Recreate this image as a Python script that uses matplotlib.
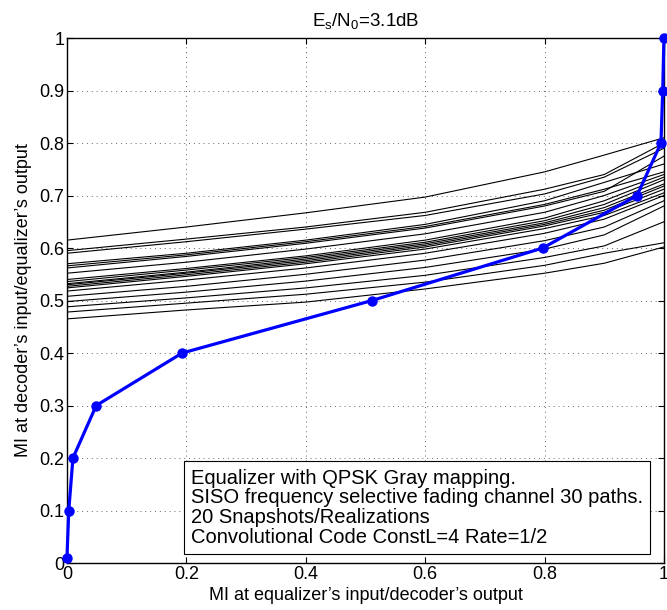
import matplotlib
matplotlib.use("Agg")
import matplotlib.pyplot as plt

plt.rcParams['font.family'] = ['Liberation Sans', 'DejaVu Sans']
plt.rcParams['mathtext.fontset'] = 'custom'
plt.rcParams['mathtext.rm'] = 'Liberation Sans'
plt.rcParams['mathtext.it'] = 'Liberation Sans:italic'

# EXIT curves of the equalizer (one per snapshot/realization)
eq_x = [0.0, 0.2, 0.4, 0.6, 0.8, 0.9, 1.0]
eq_curves = [
    [0.615, 0.640, 0.667, 0.697, 0.745, 0.777, 0.810],
    [0.595, 0.617, 0.640, 0.668, 0.712, 0.740, 0.800],
    [0.590, 0.612, 0.636, 0.662, 0.703, 0.735, 0.790],
    [0.570, 0.590, 0.615, 0.645, 0.690, 0.725, 0.760],
    [0.566, 0.587, 0.612, 0.641, 0.683, 0.712, 0.745],
    [0.562, 0.584, 0.609, 0.638, 0.680, 0.708, 0.775],
    [0.552, 0.573, 0.598, 0.627, 0.668, 0.700, 0.740],
    [0.540, 0.561, 0.585, 0.615, 0.657, 0.690, 0.735],
    [0.536, 0.558, 0.582, 0.611, 0.652, 0.683, 0.730],
    [0.532, 0.554, 0.579, 0.608, 0.648, 0.677, 0.722],
    [0.530, 0.552, 0.576, 0.605, 0.645, 0.672, 0.718],
    [0.527, 0.549, 0.573, 0.602, 0.642, 0.668, 0.712],
    [0.524, 0.546, 0.570, 0.598, 0.637, 0.662, 0.705],
    [0.518, 0.539, 0.562, 0.590, 0.628, 0.655, 0.700],
    [0.508, 0.527, 0.550, 0.577, 0.614, 0.640, 0.690],
    [0.498, 0.516, 0.537, 0.563, 0.598, 0.625, 0.680],
    [0.488, 0.505, 0.524, 0.548, 0.582, 0.604, 0.650],
    [0.478, 0.495, 0.512, 0.535, 0.567, 0.590, 0.610],
    [0.465, 0.482, 0.497, 0.522, 0.552, 0.571, 0.602],
]

# Decoder EXIT curve (inverted axes)
dec_x = [0.0, 0.003, 0.01, 0.049, 0.193, 0.511, 0.797, 0.955, 0.995, 0.998, 1.0]
dec_y = [0.01, 0.1, 0.2, 0.3, 0.4, 0.5, 0.6, 0.7, 0.8, 0.9, 1.0]

x_ticks = [0, 0.2, 0.4, 0.6, 0.8, 1.0]
x_tick_labels = ['0', '0.2', '0.4', '0.6', '0.8', '1']
y_ticks = [0, 0.1, 0.2, 0.3, 0.4, 0.5, 0.6, 0.7, 0.8, 0.9, 1.0]
y_tick_labels = ['0', '0.1', '0.2', '0.3', '0.4', '0.5', '0.6', '0.7', '0.8', '0.9', '1']

fig = plt.figure(figsize=(6.67, 6.10), dpi=100)
ax = fig.add_axes([0.1004, 0.077, 0.895, 0.8607])

for c in eq_curves:
    ax.plot(eq_x, c, color='black', linewidth=0.8)
ax.plot(dec_x, dec_y, color='#0000ff', linewidth=2.3, marker='o',
        markersize=6.5, clip_on=False, zorder=5)

ax.set_xlim(0, 1)
ax.set_ylim(0, 1)
ax.set_xticks(x_ticks)
ax.set_xticklabels(x_tick_labels)
ax.set_yticks(y_ticks)
ax.set_yticklabels(y_tick_labels)
ax.tick_params(direction='in', top=True, right=True, labelsize=13, length=4, pad=2)
ax.grid(True, linestyle=(0, (1, 4)), color='#666666', linewidth=0.7)
for s in ax.spines.values():
    s.set_linewidth(1.0)

ax.set_xlabel('MI at equalizer\u2019s input/decoder\u2019s output', fontsize=13, labelpad=3)
ax.set_ylabel('MI at decoder\u2019s input/equalizer\u2019s output', fontsize=13, labelpad=5)
ax.set_title(r'E$_\mathrm{s}$/N$_\mathrm{0}$=3.1dB', fontsize=13.5, pad=9)

ax.text(0.208, 0.18,
        'Equalizer with QPSK Gray mapping.\n'
        'SISO frequency selective fading channel 30 paths.\n'
        '20 Snapshots/Realizations\n'
        'Convolutional Code ConstL=4 Rate=1/2',
        transform=ax.transAxes, fontsize=14.5, va='top', ha='left', linespacing=1.05,
        bbox=dict(boxstyle='square,pad=0.35', facecolor='white', edgecolor='black', linewidth=0.8),
        zorder=6)

fig.savefig('out.png', dpi=100)
